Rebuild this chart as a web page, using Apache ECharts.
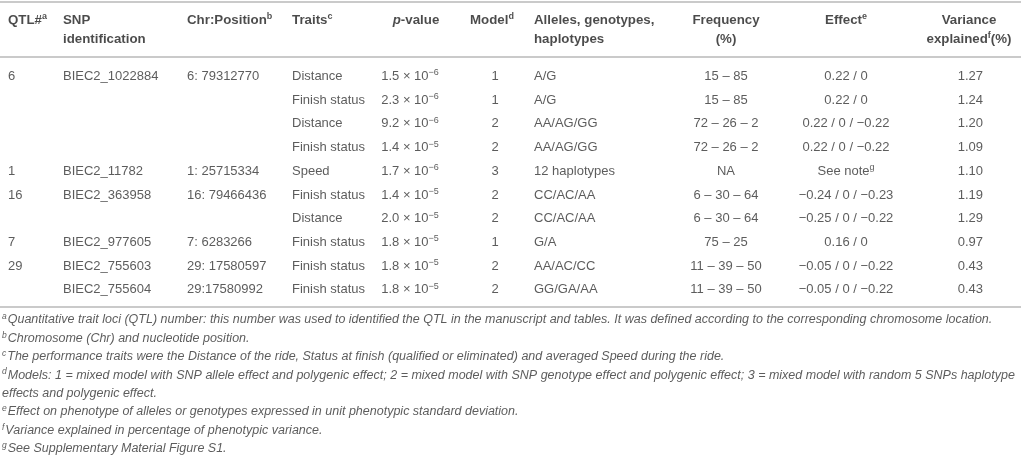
<!DOCTYPE html>
<html>
<head>
<meta charset="utf-8">
<script src="https://cdn.jsdelivr.net/npm/echarts@6/dist/echarts.min.js"></script>
<style>
html, body { margin: 0; padding: 0; background: #fff; }
#main { width: 1021px; height: 458px; }
</style>
</head>
<body>
<div id="main"></div>
<script>
// table content
const qtl = ['6', '', '', '', '1', '16', '', '7', '29', ''];
const snp = ['BIEC2_1022884', '', '', '', 'BIEC2_11782', 'BIEC2_363958', '', 'BIEC2_977605', 'BIEC2_755603', 'BIEC2_755604'];
const chrPos = ['6: 79312770', '', '', '', '1: 25715334', '16: 79466436', '', '7: 6283266', '29: 17580597', '29:17580992'];
const traits = ['Distance', 'Finish status', 'Distance', 'Finish status', 'Speed', 'Finish status', 'Distance', 'Finish status', 'Finish status', 'Finish status'];
const pMantissa = ['1.5', '2.3', '9.2', '1.4', '1.7', '1.4', '2.0', '1.8', '1.8', '1.8'];
const pExponent = [-6, -6, -6, -5, -6, -5, -5, -5, -5, -5];
const model = [1, 1, 2, 2, 3, 2, 2, 1, 2, 2];
const alleles = ['A/G', 'A/G', 'AA/AG/GG', 'AA/AG/GG', '12 haplotypes', 'CC/AC/AA', 'CC/AC/AA', 'G/A', 'AA/AC/CC', 'GG/GA/AA'];
const frequency = ['15 – 85', '15 – 85', '72 – 26 – 2', '72 – 26 – 2', 'NA', '6 – 30 – 64', '6 – 30 – 64', '75 – 25', '11 – 39 – 50', '11 – 39 – 50'];
const effect = ['0.22 / 0', '0.22 / 0', '0.22 / 0 / −0.22', '0.22 / 0 / −0.22', 'See note^g', '−0.24 / 0 / −0.23', '−0.25 / 0 / −0.22', '0.16 / 0', '−0.05 / 0 / −0.22', '−0.05 / 0 / −0.22'];
const variance = [1.27, 1.24, 1.20, 1.09, 1.10, 1.19, 1.29, 0.97, 0.43, 0.43];

const headerTop = ['QTL#^a', 'SNP', 'Chr:Position^b', 'Traits^c', '*p*-value', 'Model^d', 'Alleles, genotypes,', 'Frequency', 'Effect^e', 'Variance'];
const headerBottom = ['', 'identification', '', '', '', '', 'haplotypes', '(%)', '', 'explained^f(%)'];

const footnotes = [
  '^aQuantitative trait loci (QTL) number: this number was used to identified the QTL in the manuscript and tables. It was defined according to the corresponding chromosome location.',
  '^bChromosome (Chr) and nucleotide position.',
  '^cThe performance traits were the Distance of the ride, Status at finish (qualified or eliminated) and averaged Speed during the ride.',
  '^dModels: 1 = mixed model with SNP allele effect and polygenic effect; 2 = mixed model with SNP genotype effect and polygenic effect; 3 = mixed model with random 5 SNPs haplotype',
  'effects and polygenic effect.',
  '^eEffect on phenotype of alleles or genotypes expressed in unit phenotypic standard deviation.',
  '^fVariance explained in percentage of phenotypic variance.',
  '^gSee Supplementary Material Figure S1.'
];

// column anchors (horizontal layout units = px) and alignment
const headX = [8, 63, 187, 292, 416, 470, 534, 726, 846, 969];
const headAlign = ['left', 'left', 'left', 'left', 'center', 'left', 'left', 'center', 'center', 'center'];
const bodyX = [8, 63, 187, 292, 410, 495, 534, 726, 846, 983];
const bodyAlign = ['left', 'left', 'left', 'left', 'center', 'center', 'left', 'center', 'center', 'right'];

const FONT = '"Liberation Sans", Arial, Helvetica, sans-serif';

function markup(s) {
  return String(s)
    .replace(/\^([a-g])/g, '{sup|$1}')
    .replace(/\*(\w+)\*/g, '{it|$1}');
}
function pText(i) {
  return pMantissa[i] + ' × 10{sup|\u2212' + Math.abs(pExponent[i]) + '}';
}

const columns = [
  qtl, snp, chrPos, traits,
  qtl.map((_, i) => pText(i)),
  model.map(String), alleles, frequency,
  effect.map(markup),
  variance.map(v => v.toFixed(2))
];

function cell(x, row, text, align) {
  return { value: [x, row], text: text, label: { align: align } };
}

const headCells = [];
headerTop.forEach((t, c) => headCells.push(cell(headX[c], 0, markup(t), headAlign[c])));
headerBottom.forEach((t, c) => { if (t) headCells.push(cell(headX[c], 1, markup(t), headAlign[c])); });

const bodyCells = [];
columns.forEach((col, c) => col.forEach((t, r) => { if (t !== '') bodyCells.push(cell(bodyX[c], r, t, bodyAlign[c])); }));

const noteCells = footnotes.map((t, r) => cell(2, r, markup(t), 'left'));

const ruleStyle = { show: true, lineStyle: { color: '#b9b9b9', width: 1.5 } };

function xAxisFor(gridIndex, offset) {
  return {
    type: 'value', gridIndex: gridIndex, min: 0, max: 1021, position: 'top', offset: offset,
    axisLine: ruleStyle, axisTick: { show: false }, axisLabel: { show: false }, splitLine: { show: false }
  };
}
function yAxisFor(gridIndex, n) {
  return {
    type: 'category', gridIndex: gridIndex, inverse: true, show: false,
    data: Array.from({ length: n }, (_, i) => i)
  };
}
function textSeries(idx, data, base, rich) {
  return {
    type: 'scatter', xAxisIndex: idx, yAxisIndex: idx, data: data,
    symbolSize: 0, silent: true, clip: false, animation: false,
    label: Object.assign({
      show: true, position: 'inside', verticalAlign: 'middle',
      formatter: p => p.data.text, fontFamily: FONT, rich: rich
    }, base)
  };
}

const chart = echarts.init(document.getElementById('main'), null, { renderer: 'canvas' });
chart.setOption({
  backgroundColor: '#fff',
  animation: false,
  grid: [
    { left: 0, right: 0, top: 10.5, height: 38 },
    { left: 0, right: 0, top: 64.6, height: 237 },
    { left: 0, right: 0, top: 310.5, height: 151.2 }
  ],
  xAxis: [xAxisFor(0, 8.5), xAxisFor(1, 7.6), xAxisFor(2, 3.5)],
  yAxis: [yAxisFor(0, 2), yAxisFor(1, 10), yAxisFor(2, 8)],
  series: [
    textSeries(0, headCells,
      { fontSize: 13.3, fontWeight: 'bold', color: '#1e1e1e', lineHeight: 16 },
      {
        sup: { fontSize: 9, fontWeight: 'bold', color: '#1e1e1e', verticalAlign: 'top', lineHeight: 10, fontFamily: FONT },
        it: { fontSize: 13.3, fontWeight: 'bold', fontStyle: 'italic', color: '#1e1e1e', lineHeight: 16, fontFamily: FONT }
      }),
    textSeries(1, bodyCells,
      { fontSize: 13, color: '#333', lineHeight: 16 },
      { sup: { fontSize: 9, color: '#333', verticalAlign: 'top', lineHeight: 10, fontFamily: FONT } }),
    textSeries(2, noteCells,
      { fontSize: 12.5, fontStyle: 'italic', color: '#333', lineHeight: 15 },
      { sup: { fontSize: 8.5, fontStyle: 'italic', color: '#333', verticalAlign: 'top', lineHeight: 9, fontFamily: FONT, padding: [0, 1, 0, 0] } })
  ]
});
</script>
</body>
</html>
